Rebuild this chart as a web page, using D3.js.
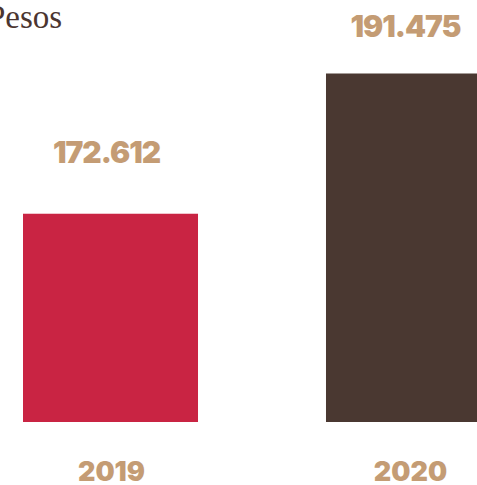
<!DOCTYPE html>
<html>
<head>
<meta charset="utf-8">
<script src="https://cdn.jsdelivr.net/npm/d3@7"></script>
<style>
  body { margin: 0; background: #fff; overflow: hidden; }
  .num { font-family: Inter, sans-serif; font-weight: 900; fill: #c49c74; }
</style>
</head>
<body>
<script>
// values in millions of pesos
var years = ['2019', '2020'];
var values = [172.612, 191.475];
var valueLabels = ['172.612', '191.475'];
var colors = ['#c92443', '#4a3831'];
var unitLabel = 'Pesos';

var width = 477, height = 485;
var baseline = 422;

var svg = d3.select('body').append('svg')
	.attr('width', width)
	.attr('height', height);

// bars don't start at zero in the original
var yMin = 144.6;
var x = d3.scaleBand()
	.domain(years)
	.range([23, 501])
	.paddingInner(0.4224)
	.paddingOuter(0);
var y = d3.scaleLinear()
	.domain([yMin, d3.max(values)])
	.range([baseline, 73.5]);
// value labels sit a bit closer to the taller bar
var yLabel = d3.scaleLinear()
	.domain([yMin, d3.max(values)])
	.range([350, 37]);

svg.append('text')
	.attr('x', -13)
	.attr('y', 28)
	.attr('font-family', '"Liberation Serif", serif')
	.attr('font-size', 33)
	.attr('fill', '#4b3530')
	.text(unitLabel);

var g = svg.selectAll('g.bar')
	.data(values)
	.enter().append('g')
	.attr('class', 'bar');

g.append('rect')
	.attr('x', function(d, i) { return x(years[i]); })
	.attr('y', function(d) { return y(d); })
	.attr('width', x.bandwidth())
	.attr('height', function(d) { return baseline - y(d); })
	.attr('fill', function(d, i) { return colors[i]; });

g.append('text')
	.attr('class', 'num')
	.attr('x', function(d, i) { return x(years[i]) + x.bandwidth() / 2 - 4 - 4 * i; })
	.attr('y', function(d) { return yLabel(d); })
	.attr('text-anchor', 'middle')
	.attr('font-size', 30)
	.attr('letter-spacing', -1)
	.text(function(d, i) { return valueLabels[i]; });

g.append('text')
	.attr('class', 'num')
	.attr('x', function(d, i) { return x(years[i]) + x.bandwidth() / 2 + 1 - 4 * i; })
	.attr('y', 481)
	.attr('text-anchor', 'middle')
	.attr('font-size', 27)
	.text(function(d, i) { return years[i]; });
</script>
</body>
</html>
